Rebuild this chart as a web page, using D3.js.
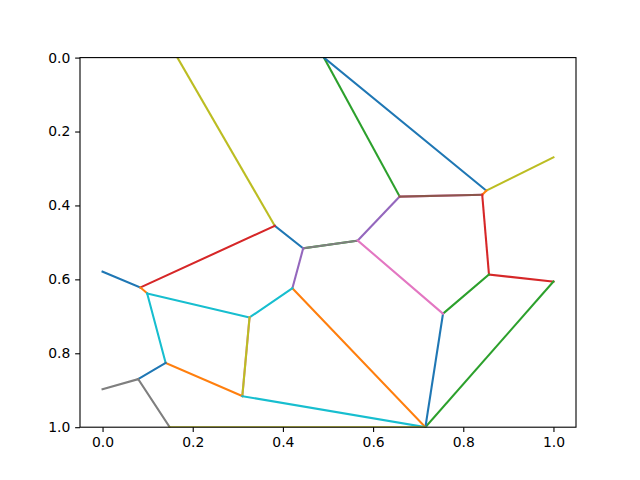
<!DOCTYPE html>
<html>
<head>
<meta charset="utf-8">
<script src="https://cdn.jsdelivr.net/npm/d3@7"></script>
<style>
  body { margin: 0; background: #fff; }
  text { font-family: "DejaVu Sans", sans-serif; }
</style>
</head>
<body>
<script>
// voronoi vertices (x, y)
var vertices = {
  A: [0.166, 0.000], B: [0.382, 0.455], C: [0.445, 0.516], D: [0.566, 0.495],
  E: [0.659, 0.376], F: [0.842, 0.371], G: [0.851, 0.360], H: [0.491, 0.000],
  I: [1.000, 0.270], J: [0.857, 0.587], K: [1.000, 0.606], L: [0.755, 0.693],
  M: [0.716, 1.000], N: [0.421, 0.624], O: [0.326, 0.703], P: [0.310, 0.916],
  Q: [0.140, 0.826], R: [0.099, 0.638], S: [0.084, 0.622], T: [0.000, 0.579],
  U: [0.079, 0.870], V: [0.000, 0.897], W: [0.149, 1.000]
};

// edges: from, to, colour-cycle index (drawn in order, later on top)
var edges = [
  ["A", "B", 8], ["B", "C", 0], ["C", "D", 2], ["C", "D", 7],
  ["D", "E", 4], ["E", "H", 2], ["H", "G", 0], ["E", "F", 6], ["E", "F", 5],
  ["G", "I", 8], ["F", "G", 1], ["F", "J", 3], ["J", "K", 3], ["J", "L", 2],
  ["K", "M", 2], ["L", "M", 0], ["D", "L", 6], ["C", "N", 4], ["N", "M", 1],
  ["B", "S", 3], ["S", "T", 0], ["S", "R", 1], ["R", "O", 9], ["O", "N", 9],
  ["R", "Q", 9], ["O", "P", 6], ["O", "P", 8], ["Q", "P", 1], ["P", "M", 9],
  ["Q", "U", 0], ["U", "V", 7], ["U", "W", 7], ["W", "M", 8]
];

var xTicks = [0, 0.2, 0.4, 0.6, 0.8, 1.0];
var yTicks = [0, 0.2, 0.4, 0.6, 0.8, 1.0];

var palette = ["#1f77b4", "#ff7f0e", "#2ca02c", "#d62728", "#9467bd",
               "#8c564b", "#e377c2", "#7f7f7f", "#bcbd22", "#17becf"];

var width = 640,
    height = 480,
    mLeft = 80, mRight = 576, mTop = 57.6, mBottom = 427.2;

var svg = d3.select("body").append("svg")
    .attr("width", width)
    .attr("height", height);

var x = d3.scaleLinear().domain([-0.05, 1.05]).range([mLeft, mRight]);
var y = d3.scaleLinear().domain([0, 1]).range([mTop, mBottom]);

svg.append("defs").append("clipPath").attr("id", "clip")
  .append("rect")
    .attr("x", mLeft).attr("y", mTop)
    .attr("width", mRight - mLeft).attr("height", mBottom - mTop);

svg.append("g")
    .attr("clip-path", "url(#clip)")
  .selectAll("line")
  .data(edges)
  .enter().append("line")
    .attr("x1", function(d) { return x(vertices[d[0]][0]); })
    .attr("y1", function(d) { return y(vertices[d[0]][1]); })
    .attr("x2", function(d) { return x(vertices[d[1]][0]); })
    .attr("y2", function(d) { return y(vertices[d[1]][1]); })
    .attr("stroke", function(d) { return palette[d[2]]; })
    .attr("stroke-width", 2.08)
    .attr("stroke-linecap", "square");

// axes
var fmt = d3.format(".1f");

var xAxis = svg.append("g")
    .attr("transform", "translate(0," + mBottom + ")")
    .call(d3.axisBottom(x).tickValues(xTicks).tickFormat(fmt).tickSize(4.86).tickPadding(4.9));

var yAxis = svg.append("g")
    .attr("transform", "translate(" + mLeft + ",0)")
    .call(d3.axisLeft(y).tickValues(yTicks).tickFormat(fmt).tickSize(4.86).tickPadding(4.9));

[xAxis, yAxis].forEach(function(a) {
  a.select(".domain").remove();
  a.selectAll(".tick line").attr("stroke", "#000").attr("stroke-width", 1.1);
  a.selectAll(".tick text")
    .attr("fill", "#000")
    .style("font-size", "13.9px")
    .style("font-family", "DejaVu Sans");
});

// spines
svg.append("rect")
    .attr("x", mLeft).attr("y", mTop)
    .attr("width", mRight - mLeft).attr("height", mBottom - mTop)
    .attr("fill", "none")
    .attr("stroke", "#000")
    .attr("stroke-width", 1.1);
</script>
</body>
</html>
